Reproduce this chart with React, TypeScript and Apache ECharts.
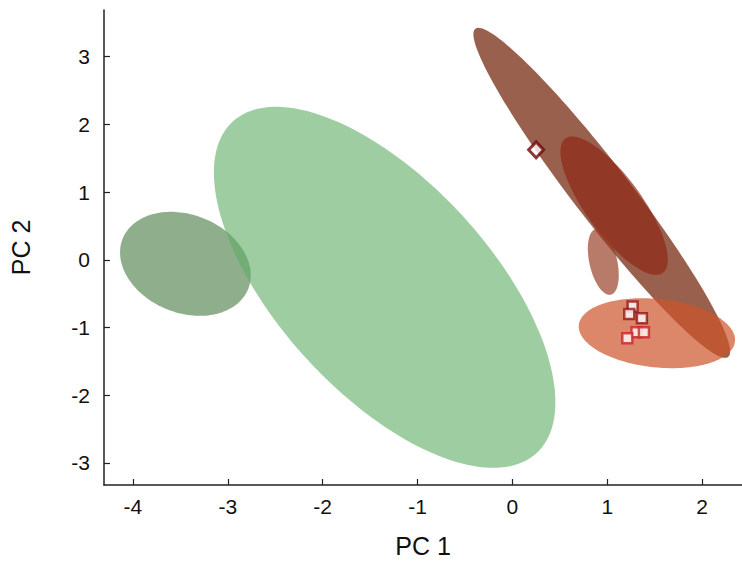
import React, { useEffect, useRef } from "react";
import * as echarts from "echarts";

// Axis extents and tick labels
const xTicks = [-4, -3, -2, -1, 0, 1, 2];
const yTicks = [-3, -2, -1, 0, 1, 2, 3];
const xRange = [-4.305, 2.42];
const yRange = [-3.325, 3.69];

// Ellipses (data space): center, half-width (x), half-height (y), correlation
const ellipseNames = ["G1", "G2", "B1", "B2", "B3", "B4"];
const ellipseCx = [-3.447, -1.347, 0.942, 1.072, 0.958, 1.523];
const ellipseCy = [-0.059, -0.406, 0.99, 0.8, -0.03, -1.083];
const ellipseSx = [0.689, 1.8, 1.353, 0.566, 0.163, 0.824];
const ellipseSy = [0.768, 2.666, 2.437, 1.022, 0.487, 0.517];
const ellipseR = [-0.22, -0.636, -0.961, -0.78, -0.4, -0.19];
const ellipseColors = [
  "rgba(143,175,140,1)",
  "rgba(93,172,100,0.6)",
  "rgba(136,68,47,0.85)",
  "rgba(141,42,21,0.7)",
  "rgba(150,60,35,0.68)",
  "rgba(205,84,41,0.7)",
];

// Markers
const diamondX = [0.25];
const diamondY = [1.625];
const darkSquareX = [1.267, 1.232, 1.365];
const darkSquareY = [-0.688, -0.798, -0.861];
const redSquareX = [1.308, 1.386, 1.211];
const redSquareY = [-1.068, -1.068, -1.157];

export default function App() {
  const ref = useRef<HTMLDivElement>(null);
  useEffect(() => {
    if (!ref.current) return;
    const chart = echarts.init(ref.current, undefined, { renderer: "svg" });
    const ellipseData = ellipseNames.map((n, i) => [
      ellipseCx[i],
      ellipseCy[i],
      ellipseSx[i],
      ellipseSy[i],
      ellipseR[i],
    ]);
    const axisLabelStyle = {
      fontFamily: "Liberation Sans, Arial, sans-serif",
      fontSize: 21,
      color: "#111",
    };
    chart.setOption({
      animation: false,
      grid: { left: 103, right: 0, top: 10, bottom: 79 },
      xAxis: {
        type: "value",
        min: xRange[0],
        max: xRange[1],
        splitLine: { show: false },
        axisLine: { show: true, onZero: false, lineStyle: { color: "#222", width: 1.5 } },
        axisTick: {
          show: true,
          inside: true,
          length: 6,
          customValues: xTicks,
          lineStyle: { color: "#222", width: 1.2 },
        },
        axisLabel: { ...axisLabelStyle, margin: 11, customValues: xTicks },
        name: "PC 1",
        nameLocation: "middle",
        nameGap: 48,
        nameTextStyle: {
          fontFamily: "Liberation Sans, Arial, sans-serif",
          fontSize: 25,
          color: "#111",
        },
      },
      yAxis: {
        type: "value",
        min: yRange[0],
        max: yRange[1],
        splitLine: { show: false },
        axisLine: { show: true, onZero: false, lineStyle: { color: "#222", width: 1.5 } },
        axisTick: {
          show: true,
          inside: true,
          length: 6,
          customValues: yTicks,
          lineStyle: { color: "#222", width: 1.2 },
        },
        axisLabel: { ...axisLabelStyle, margin: 14, customValues: yTicks },
        name: "PC 2",
        nameLocation: "middle",
        nameGap: 71,
        nameTextStyle: {
          fontFamily: "Liberation Sans, Arial, sans-serif",
          fontSize: 25,
          color: "#111",
        },
      },
      series: [
        {
          type: "custom",
          clip: false,
          data: ellipseData,
          encode: { x: 0, y: 1 },
          renderItem: (params: any, api: any) => {
            const i = params.dataIndex;
            const cx = api.value(0);
            const cy = api.value(1);
            const sx = api.value(2);
            const sy = api.value(3);
            const r = api.value(4);
            const q = Math.sqrt(1 - r * r);
            const pts: number[][] = [];
            const N = 160;
            for (let k = 0; k < N; k++) {
              const t = (2 * Math.PI * k) / N;
              const x = cx + sx * Math.cos(t);
              const y = cy + sy * (r * Math.cos(t) + q * Math.sin(t));
              pts.push(api.coord([x, y]));
            }
            return {
              type: "polygon",
              shape: { points: pts },
              style: { fill: ellipseColors[i], stroke: "none" },
            };
          },
        },
        {
          type: "scatter",
          symbol: "diamond",
          symbolSize: [15, 16],
          data: diamondX.map((x, i) => [x, diamondY[i]]),
          itemStyle: { color: "#fff", borderColor: "#6e0505", borderWidth: 3 },
        },
        {
          type: "scatter",
          symbol: "rect",
          symbolSize: 10,
          data: darkSquareX.map((x, i) => [x, darkSquareY[i]]),
          itemStyle: { color: "#fff", borderColor: "#951818", borderWidth: 2.5 },
        },
        {
          type: "scatter",
          symbol: "rect",
          symbolSize: 10,
          data: redSquareX.map((x, i) => [x, redSquareY[i]]),
          itemStyle: { color: "#fff", borderColor: "#cc2229", borderWidth: 2.5 },
        },
      ],
    });
    return () => chart.dispose();
  }, []);
  return (
    <div
      ref={ref}
      style={{ position: "fixed", left: 0, top: 0, width: 742, height: 564, background: "#fff" }}
    />
  );
}
